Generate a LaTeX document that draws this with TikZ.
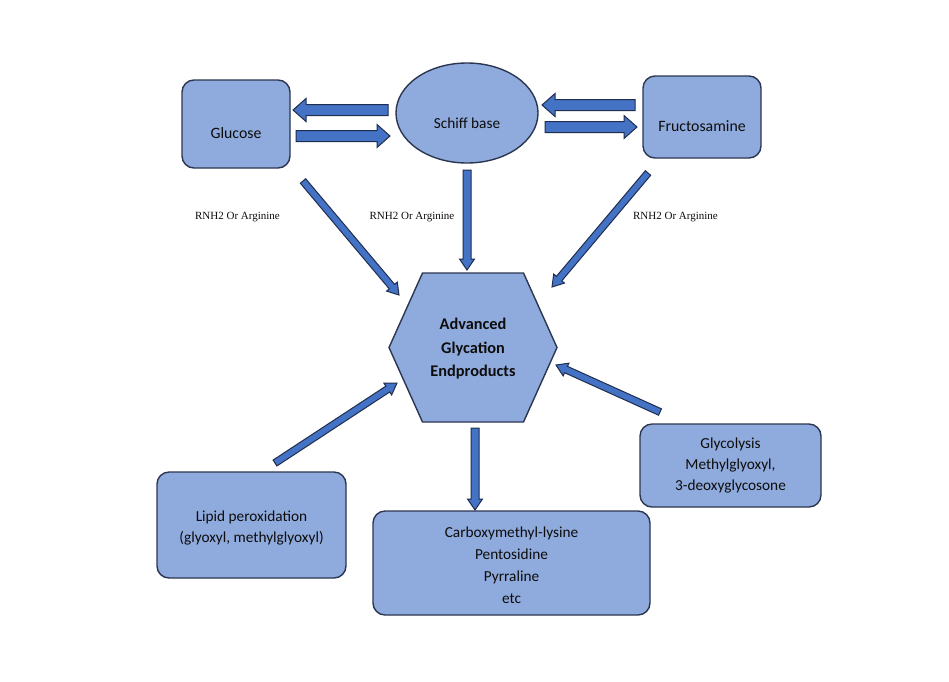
\documentclass[tikz,border=0pt]{standalone}
\usepackage{fontspec}
\setmainfont{Carlito}
\newfontfamily\tnr{Liberation Serif}
\usetikzlibrary{calc,shapes.geometric}
\definecolor{boxfill}{HTML}{8FAADC}
\definecolor{boxline}{HTML}{2B3650}
\definecolor{arrfill}{HTML}{4472C4}
\definecolor{arrline}{HTML}{1F2E4F}
\definecolor{txt}{HTML}{0D0D0D}
\tikzset{
  boxstyle/.style={draw=boxline, fill=boxfill, line width=1.4pt},
  roundbox/.style={boxstyle, rectangle, rounded corners=12pt, inner sep=0pt, align=center,
     font=\fontsize{15.3}{21}\selectfont, text=txt},
  lowtext/.style={text height=32pt, text depth=4pt},
  arrowstyle/.style={draw=arrline, fill=arrfill, line width=1pt, line join=miter},
  lbl/.style={font=\tnr\fontsize{11}{12}\selectfont, text=txt, inner sep=0pt}
}
\newcommand{\blockarrow}[5]{%
  \path[arrowstyle] let \p1=(#1), \p2=(#2), \p3=($(\p2)!#5pt!(\p1)$) in
    ($(\p1)!#3pt!90:(\p2)$) -- ($(\p3)!#3pt!-90:(\p1)$) -- ($(\p3)!#4pt!-90:(\p1)$) --
    (\p2) -- ($(\p3)!#4pt!90:(\p1)$) -- ($(\p3)!#3pt!90:(\p1)$) -- ($(\p1)!#3pt!-90:(\p2)$) -- cycle;}
\begin{document}
\begin{tikzpicture}[x=1pt, y=-1pt]
\useasboundingbox[fill=white] (0,0) rectangle (949,681);

% top row
\node[roundbox, lowtext, minimum width=108pt, minimum height=88pt, font=\fontsize{15.8}{21}\selectfont] (glucose) at (236,124) {Glucose};
\node[boxstyle, ellipse, inner sep=0pt, minimum width=142pt, minimum height=100pt,
      font=\fontsize{15.3}{21}\selectfont, text=txt, text height=34pt, text depth=4pt] (schiff) at (467,113) {Schiff base};
\node[roundbox, lowtext, minimum width=118pt, minimum height=82pt, font=\fontsize{15.8}{21}\selectfont] (fructo) at (702,117) {Fructosamine};

% hexagon
\draw[boxstyle, line join=miter] (389,347.5) -- (422.5,273) -- (523.5,273) -- (557,347.5) -- (523.5,422) -- (422.5,422) -- cycle;
\node[font=\bfseries\fontsize{16.3}{23.5}\selectfont, align=center, text=txt, inner sep=0pt] (age) at (473,349) {Advanced\\Glycation\\Endproducts};

% bottom boxes
\node[roundbox, minimum width=189pt, minimum height=106pt] (lipid) at (251.5,525) {\rule{0pt}{17pt}Lipid peroxidation\\(glyoxyl, methylglyoxyl)};
\node[roundbox, minimum width=277pt, minimum height=104pt, font=\fontsize{15.3}{22.3}\selectfont] (carboxy) at (511.5,563) {\rule{0pt}{15pt}Carboxymethyl-lysine\\Pentosidine\\Pyrraline\\etc};
\node[roundbox, minimum width=181pt, minimum height=83pt, font=\fontsize{15.3}{20.8}\selectfont] (glyco) at (730.5,465.5) {Glycolysis\\Methylglyoxyl,\\3-deoxyglycosone};

% labels
\node[lbl] (l1) at (237.5,217) {RNH2 Or Arginine};
\node[lbl] (l2) at (412,217) {RNH2 Or Arginine};
\node[lbl] (l3) at (675.5,217) {RNH2 Or Arginine};

% arrow end points
\coordinate (sg1) at (388,110);  \coordinate (sg2) at (293,110);
\coordinate (gs1) at (296,136);  \coordinate (gs2) at (390,136);
\coordinate (fs1) at (635,105);  \coordinate (fs2) at (542,105);
\coordinate (sf1) at (545,127);  \coordinate (sf2) at (637,127);
\coordinate (ga1) at (303,181);  \coordinate (ga2) at (399,295);
\coordinate (sa1) at (467,170);  \coordinate (sa2) at (467,270);
\coordinate (fa1) at (648,173);  \coordinate (fa2) at (552,287);
\coordinate (la1) at (275,463);  \coordinate (la2) at (397,383);
\coordinate (ac1) at (475,428);  \coordinate (ac2) at (475,510);
\coordinate (ya1) at (660,412);  \coordinate (ya2) at (556,365);

\blockarrow{sg1}{sg2}{5.5}{11.5}{13}
\blockarrow{gs1}{gs2}{5.5}{11.5}{13}
\blockarrow{fs1}{fs2}{5.5}{11.5}{13}
\blockarrow{sf1}{sf2}{5.5}{11.5}{13}
\blockarrow{ga1}{ga2}{3.5}{7}{11}
\blockarrow{sa1}{sa2}{4}{7.5}{11}
\blockarrow{fa1}{fa2}{3.5}{7}{11}
\blockarrow{la1}{la2}{3.5}{7}{11}
\blockarrow{ac1}{ac2}{4}{7.5}{11}
\blockarrow{ya1}{ya2}{3.5}{7}{11}
\end{tikzpicture}
\end{document}
